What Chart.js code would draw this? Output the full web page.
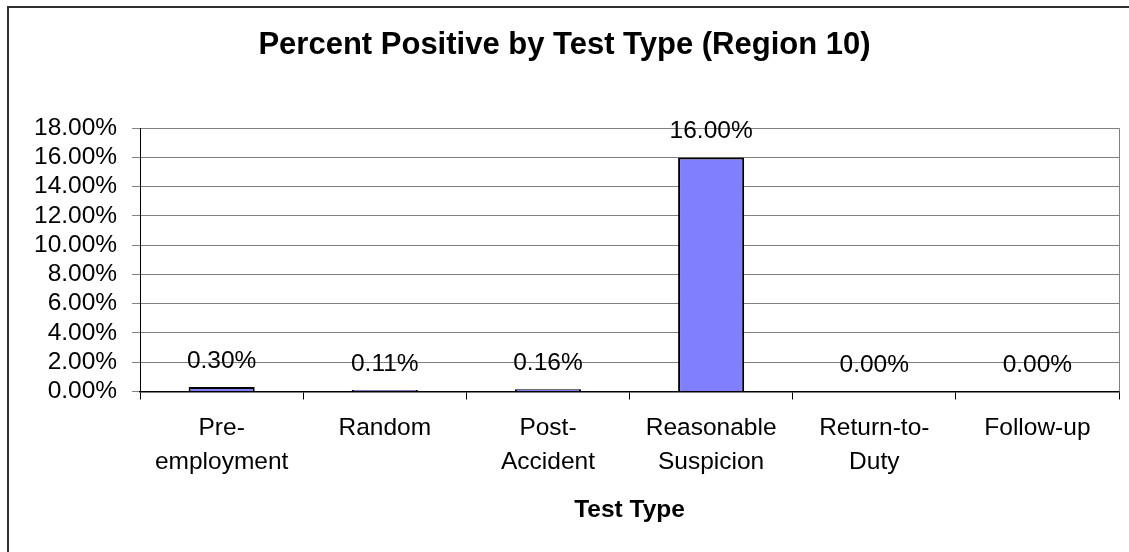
<!DOCTYPE html>
<html>
<head>
<meta charset="utf-8">
<script src="https://cdn.jsdelivr.net/npm/chart.js@4"></script>
<style>
    html, body { margin: 0; padding: 0; background: #fff; overflow: hidden; }
    #frame { position: absolute; left: 7px; top: 6px; width: 1300px; height: 700px; border: 2px solid #303030; }
    #wrap { position: absolute; left: 0; top: 0; width: 1129px; height: 552px; }
</style>
</head>
<body>
<div id="frame"></div>
<div id="wrap"><canvas id="chart_positive"></canvas></div>
<script>
const chartTitle = 'Percent Positive by Test Type (Region 10)';
const axisTitle = 'Test Type';
const testTypes = [['Pre-', 'employment'], 'Random', ['Post-', 'Accident'], ['Reasonable', 'Suspicion'], ['Return-to-', 'Duty'], 'Follow-up'];
const percentPositive = [0.30, 0.11, 0.16, 16.00, 0.00, 0.00];
const yTicks = [0, 2, 4, 6, 8, 10, 12, 14, 16, 18];

const fontFamily = 'Arial, "Liberation Sans", sans-serif';

// value labels above each bar
const barLabels = {
    id: 'barLabels',
    afterDatasetsDraw(chart) {
        const ctx = chart.ctx;
        const meta = chart.getDatasetMeta(0);
        ctx.save();
        ctx.font = '24.5px ' + fontFamily;
        ctx.fillStyle = '#000';
        ctx.textAlign = 'center';
        ctx.textBaseline = 'middle';
        meta.data.forEach((bar, i) => {
            ctx.fillText(percentPositive[i].toFixed(2) + '%', bar.x, bar.y - 26);
        });
        ctx.restore();
    }
};

// gray edge on the right of the plot area
const plotEdge = {
    id: 'plotEdge',
    beforeDatasetsDraw(chart) {
        const a = chart.chartArea;
        const ctx = chart.ctx;
        ctx.save();
        ctx.strokeStyle = '#808080';
        ctx.lineWidth = 1;
        ctx.beginPath();
        ctx.moveTo(Math.round(a.right) + 0.5, a.top);
        ctx.lineTo(Math.round(a.right) + 0.5, a.bottom);
        ctx.stroke();
        ctx.restore();
    }
};

Chart.defaults.font.family = fontFamily;
Chart.defaults.color = '#000';

document.chartPositive = new Chart(document.getElementById('chart_positive'), {
    type: 'bar',
    data: {
        labels: testTypes,
        datasets: [{
            label: 'Percent Positive',
            data: percentPositive,
            backgroundColor: '#8080FF',
            borderColor: '#000',
            borderWidth: 2,
            categoryPercentage: 1,
            barPercentage: 0.405
        }]
    },
    options: {
        responsive: true,
        maintainAspectRatio: false,
        animation: false,
        layout: {
            padding: { left: 10, right: 10, top: 0, bottom: 27.5 }
        },
        scales: {
            x: {
                grid: {
                    offset: true,
                    drawOnChartArea: false,
                    color: '#000',
                    tickLength: 8
                },
                border: { color: '#000', width: 1.5 },
                ticks: {
                    font: { size: 24.5, lineHeight: 1.41 },
                    padding: 11,
                    maxRotation: 0,
                    autoSkip: false
                },
                title: {
                    display: true,
                    text: axisTitle,
                    font: { size: 24.5, weight: 'bold', lineHeight: 1.2 },
                    padding: { top: 4.5, bottom: 0 }
                }
            },
            y: {
                min: yTicks[0],
                max: yTicks[yTicks.length - 1],
                grid: {
                    color: '#808080',
                    tickLength: 8
                },
                border: { color: '#000', width: 1 },
                afterBuildTicks: function (axis) {
                    axis.ticks = yTicks.map(v => ({ value: v }));
                },
                afterFit: function (axis) {
                    axis.width += 9;
                },
                ticks: {
                    font: { size: 24.5 },
                    padding: 15,
                    autoSkip: false,
                    callback: function (value) {
                        return value.toFixed(2) + '%';
                    }
                }
            }
        },
        plugins: {
            legend: { display: false },
            tooltip: { enabled: false },
            title: {
                display: true,
                text: chartTitle,
                font: { size: 31, weight: 'bold', lineHeight: 1.2 },
                padding: { top: 27, bottom: 64 }
            }
        }
    },
    plugins: [barLabels, plotEdge]
});
</script>
</body>
</html>
